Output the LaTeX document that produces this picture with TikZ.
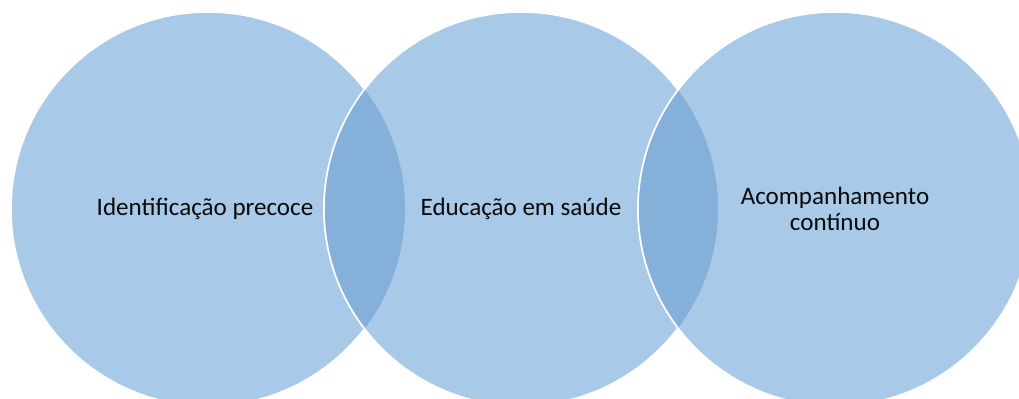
\documentclass[tikz,border=0pt]{standalone}
\usepackage{fontspec}
\setmainfont{Carlito}
\definecolor{vennfill}{RGB}{168,202,232}
\definecolor{venndark}{RGB}{132,176,218}
\definecolor{venntext}{RGB}{10,10,10}

\begin{document}
\begin{tikzpicture}[x=0.75pt,y=0.75pt]
  \tikzset{venn/.style={fill=vennfill,draw=white,line width=1.2pt},
    lens/.style={fill=venndark},
    rim/.style={draw=white,line width=1.2pt},
    vtext/.style={text=venntext,align=center,font=\fontsize{18.8}{19.5}\selectfont}}
  \useasboundingbox (0,0) rectangle (1019,399);
  \clip (0,0) rectangle (1019,399);
  \coordinate (c1) at (208,190);
  \coordinate (c2) at (521,190);
  \coordinate (c3) at (835,190);
  % the three circles
  \draw[venn] (c1) circle (197);
  \draw[venn] (c2) circle (197);
  \draw[venn] (c3) circle (197);
  % overlaps
  \begin{scope}
    \clip (c1) circle (197);
    \fill[lens] (c2) circle (197);
    \draw[rim] (c2) circle (197);
  \end{scope}
  \begin{scope}
    \clip (c2) circle (197);
    \fill[lens] (c3) circle (197);
    \draw[rim] (c3) circle (197);
  \end{scope}
  \node[vtext] (t1) at (205,190) {Identificação precoce};
  \node[vtext] (t2) at (c2) {Educação em saúde};
  \node[vtext] (t3) at (c3) {Acompanhamento\\contínuo};
\end{tikzpicture}
\end{document}
